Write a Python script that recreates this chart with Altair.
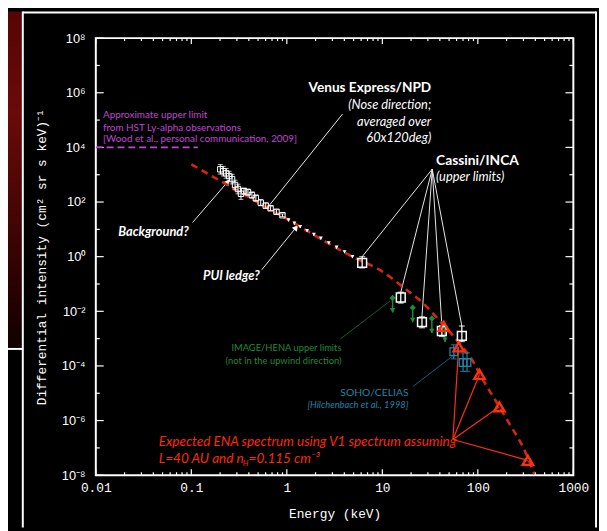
import altair as alt
import pandas as pd

# ---------------- data ----------------
# Venus Express / NPD spectrum
venus_E = [0.201, 0.216, 0.232, 0.249, 0.267, 0.287, 0.308, 0.331, 0.356, 0.392,
           0.431, 0.474, 0.533, 0.601, 0.676, 0.780, 0.900, 1.04, 1.20, 1.38,
           1.63, 1.92, 2.27, 2.75, 3.32, 4.02, 4.86]
venus_I = [1.58e3, 1.35e3, 1.12e3, 8.9e2, 6.9e2, 4.2e2, 3.0e2, 2.0e2, 2.5e2, 2.3e2,
           1.8e2, 1.4e2, 95, 74, 59, 44, 33, 22, 16.7, 12.6,
           9.0, 6.5, 4.7, 3.2, 2.2, 1.5, 1.0]
venus_err = [1.5, 1.5, 1.5, 1.5, 1.5, 1.5, 1.5, 1.6, 1.3, 1.3,
             1.3, 1.3, 1.3, 1.25, 1.2, 1.2, 1.12, 1.12, 1.12, 1.12,
             1.12, 1.12, 1.12, 1.12, 1.12, 1.12, 1.12]

# Cassini / INCA upper limits
cas_E = [6.15, 15.6, 26, 42, 68]
cas_I = [0.59, 0.032, 4.0e-3, 1.9e-3, 1.26e-3]
cas_lo = [0.39, 0.02, 2.5e-3, 1.2e-3, 7.8e-4]
cas_hi = [1.0, 0.05, 6.3e-3, 3.0e-3, 2.9e-3]

# IMAGE / HENA upper limits
hena_E = [12.8, 20.8, 33, 45.3]
hena_I = [0.031, 0.0136, 5.5e-3, 2.6e-3]
hena_tip = [9.1e-3, 4.0e-3, 1.6e-3, 7.6e-4]

# SOHO / CELIAS
soho_E = [56, 70, 77]
soho_I = [3.3e-4, 1.33e-4, 1.33e-4]
soho_lo = [1.8e-4, 6.3e-5, 6.3e-5]
soho_hi = [6.0e-4, 3.0e-4, 3.0e-4]

# expected ENA spectrum (dashed model) and its marked points
model_E = [0.1, 1, 5, 9.5, 17, 27.5, 37.6, 48, 71, 85, 115, 155, 217, 298, 390]
model_I = [2.4e3, 24, 0.95, 0.32, 0.071, 0.018, 5.6e-3, 2.2e-3, 4.3e-4, 1.9e-4,
           2.8e-5, 5.1e-6, 7.1e-7, 1.05e-7, 1.1e-8]
tri_E = [44, 63, 104, 168, 334]
tri_I = [2.8e-3, 5.0e-4, 4.9e-5, 3.2e-6, 3.5e-8]

# HST Ly-alpha upper limit
hst_E = [0.01, 0.117]
hst_I = [1e4, 1e4]

# axis ticks
major_x = [0.01, 0.1, 1, 10, 100, 1000]
minor_x = [m * d for d in [0.01, 0.1, 1, 10, 100] for m in [2, 3, 4, 5, 6, 7, 8, 9]]
major_y = [1e-8, 1e-6, 1e-4, 1e-2, 1, 1e2, 1e4, 1e6, 1e8]
minor_y = [1e-7, 1e-5, 1e-3, 1e-1, 1e1, 1e3, 1e5, 1e7]

# annotation anchors (energy, intensity)
venus_label_line = dict(E=[3.83], I=[1.66e5], E2=[0.644], I2=[70])
cas_origin = (33.3, 1.6e3)
fan_origin = (54.8, 2.03e-7)
bg_arrow = dict(E=[0.103], I=[17.8], E2=[0.239], I2=[537])
pui_arrow = dict(E=[0.546], I=[0.33], E2=[1.25], I2=[11.7])
hena_line = dict(E=[3.65], I=[9.8e-4], E2=[12.0], I2=[0.0236])
soho_line = dict(E=[20.9], I=[1.76e-5], E2=[58.5], I2=[2.8e-4])

# ---------------- scales / axes ----------------
xs = alt.Scale(type="log", domain=[0.01, 1000], nice=False)
ys = alt.Scale(type="log", domain=[1e-8, 1e8], nice=False)

sup = ("'10' + replace(replace(replace(replace(replace(replace("
       "'' + round(log(datum.value) / LN10), '-', '\u207b'), '0', '\u2070'), '2', '\u00b2'),"
       " '4', '\u2074'), '6', '\u2076'), '8', '\u2078')")

x_axis = alt.Axis(values=major_x, format="~g", title="Energy (keV)", ticks=False, tickSize=0,
                  domain=False, grid=False, labelFlush=False, labelOverlap=False,
                  labelFont="Liberation Mono", labelFontSize=13, labelColor="white",
                  labelPadding=7, titleFont="Liberation Mono", titleFontSize=13,
                  titleFontWeight="normal", titleColor="white", titleY=39,
                  titleBaseline="middle")
y_axis = alt.Axis(values=major_y, labelExpr=sup,
                  title="Differential intensity (cm\u00b2 sr s keV)\u207b\u00b9",
                  ticks=False, tickSize=0, domain=False, grid=False, labelFlush=False,
                  labelOverlap=False, labelFont="Liberation Sans", labelFontSize=13,
                  labelColor="white", labelPadding=11, titleFont="Liberation Mono",
                  titleFontSize=13, titleFontWeight="normal", titleColor="white",
                  titleX=-55, titleBaseline="middle")


def X(f="E"):
    return alt.X(f, type="quantitative", scale=xs, axis=x_axis)


def Y(f="I"):
    return alt.Y(f, type="quantitative", scale=ys, axis=y_axis)


W, H = 484, 443
one = pd.DataFrame({"k": [0]})
layers = []

# ---------------- decorations outside the plot ----------------
layers.append(alt.Chart(one).mark_rect(color=alt.Gradient(
    gradient="linear", x1=0, x2=0, y1=0, y2=1,
    stops=[alt.GradientStop(color="#550505", offset=0),
           alt.GradientStop(color="#6a0a0a", offset=0.3),
           alt.GradientStop(color="#330202", offset=0.75),
           alt.GradientStop(color="#120000", offset=1)])).encode(
    x=alt.value(-89), x2=alt.value(-74), y=alt.value(-27), y2=alt.value(315)))
for enc in [dict(x=alt.value(-74), y=alt.value(-27), y2=alt.value(496)),
            dict(x=alt.value(507), y=alt.value(-27), y2=alt.value(496)),
            dict(y=alt.value(-26), x=alt.value(-74), x2=alt.value(507)),
            dict(y=alt.value(315), x=alt.value(-89), x2=alt.value(-74))]:
    layers.append(alt.Chart(one).mark_rule(color="white", strokeWidth=2).encode(**enc))

# ---------------- ticks (inward, mirrored) ----------------
tick = dict(color="white", strokeWidth=1.2)
ymaj = pd.DataFrame({"v": major_y})
ymin = pd.DataFrame({"v": minor_y})
xmaj = pd.DataFrame({"v": major_x})
xmin = pd.DataFrame({"v": minor_x})
layers += [
    alt.Chart(ymaj).mark_rule(**tick).encode(y=Y("v"), x=alt.value(0), x2=alt.value(8)),
    alt.Chart(ymin).mark_rule(**tick).encode(y=Y("v"), x=alt.value(0), x2=alt.value(4)),
    alt.Chart(ymaj).mark_rule(**tick).encode(y=Y("v"), x=alt.value(W), x2=alt.value(W - 8)),
    alt.Chart(ymin).mark_rule(**tick).encode(y=Y("v"), x=alt.value(W), x2=alt.value(W - 4)),
    alt.Chart(xmaj).mark_rule(**tick).encode(x=X("v"), y=alt.value(H), y2=alt.value(H - 6)),
    alt.Chart(xmin).mark_rule(**tick).encode(x=X("v"), y=alt.value(H), y2=alt.value(H - 3)),
    alt.Chart(xmaj).mark_rule(**tick).encode(x=X("v"), y=alt.value(0), y2=alt.value(6)),
    alt.Chart(xmin).mark_rule(**tick).encode(x=X("v"), y=alt.value(0), y2=alt.value(3)),
]

# ---------------- HST limit ----------------
layers.append(alt.Chart(pd.DataFrame({"E": hst_E, "I": hst_I})).mark_line(
    color="#c046d6", strokeWidth=1.6, strokeDash=[7, 4]).encode(x=X(), y=Y()))

# ---------------- annotation lines ----------------
def seg(d, color, width=1.0):
    return alt.Chart(pd.DataFrame(d)).mark_rule(color=color, strokeWidth=width).encode(
        x=X("E"), y=Y("I"), x2=alt.X2("E2"), y2=alt.Y2("I2"))


layers.append(seg(venus_label_line, "#e8e8e8"))
layers.append(seg(dict(E=[cas_origin[0]] * 5, I=[cas_origin[1]] * 5, E2=cas_E, I2=cas_hi), "#e8e8e8"))
layers.append(seg(dict(E=[fan_origin[0]] * 4, I=[fan_origin[1]] * 4, E2=tri_E[1:], I2=tri_I[1:]),
                  "#ff3010", 1.2))
layers.append(seg(hena_line, "#1d5a2c"))
layers.append(seg(soho_line, "#15607a"))
layers.append(seg(bg_arrow, "#e8e8e8"))
layers.append(seg(pui_arrow, "#e8e8e8"))
layers.append(alt.Chart(pd.DataFrame({"E": [bg_arrow["E2"][0], pui_arrow["E2"][0]],
                                      "I": [bg_arrow["I2"][0], pui_arrow["I2"][0]]}))
              .mark_point(shape="triangle-up", filled=True, color="white", size=45, angle=38,
                          opacity=1).encode(x=X(), y=Y()))

# ---------------- model curve ----------------
layers.append(alt.Chart(pd.DataFrame({"E": model_E, "I": model_I})).mark_line(
    color="#d8260e", strokeWidth=2.6, strokeDash=[7, 5], interpolate="monotone").encode(
    x=X(), y=Y()))

# ---------------- Venus Express data ----------------
vdf = pd.DataFrame({"E": venus_E, "I": venus_I,
                    "lo": [i / f for i, f in zip(venus_I, venus_err)],
                    "hi": [i * f for i, f in zip(venus_I, venus_err)]})
vlow = vdf[vdf["E"] < 0.95]
vhigh = vdf[vdf["E"] >= 0.95]
layers.append(alt.Chart(vdf).mark_rule(color="white", strokeWidth=1).encode(
    x=X(), y=Y("lo"), y2=alt.Y2("hi")))
layers.append(alt.Chart(vlow).mark_tick(color="white", orient="horizontal", size=5,
                                        thickness=1).encode(x=X(), y=Y("lo")))
layers.append(alt.Chart(vlow).mark_tick(color="white", orient="horizontal", size=5,
                                        thickness=1).encode(x=X(), y=Y("hi")))
layers.append(alt.Chart(vlow).mark_point(shape="square", filled=False, color="white",
                                         size=30, strokeWidth=1, opacity=1).encode(x=X(), y=Y()))
layers.append(alt.Chart(vhigh).mark_point(shape="triangle-down", filled=True, color="white",
                                          size=16, opacity=1).encode(x=X(), y=Y()))

# ---------------- IMAGE/HENA ----------------
hdf = pd.DataFrame({"E": hena_E, "I": hena_I, "tip": hena_tip})
layers.append(alt.Chart(hdf).mark_rule(color="#1c8c3c", strokeWidth=1.5).encode(
    x=X(), y=Y("I"), y2=alt.Y2("tip")))
layers.append(alt.Chart(hdf).mark_point(shape="diamond", filled=True, color="#1c8c3c",
                                        size=40, opacity=1).encode(x=X(), y=Y("I")))
layers.append(alt.Chart(hdf).mark_point(shape="triangle-down", filled=True, color="#1c8c3c",
                                        size=30, opacity=1, yOffset=-2).encode(x=X(), y=Y("tip")))

# ---------------- SOHO/CELIAS ----------------
sdf = pd.DataFrame({"E": soho_E, "I": soho_I, "lo": soho_lo, "hi": soho_hi})
layers.append(alt.Chart(sdf).mark_rule(color="#1e86a8", strokeWidth=1.2).encode(
    x=X(), y=Y("lo"), y2=alt.Y2("hi")))
for f in ["lo", "hi"]:
    layers.append(alt.Chart(sdf).mark_tick(color="#1e86a8", orient="horizontal", size=6,
                                           thickness=1.2).encode(x=X(), y=Y(f)))
layers.append(alt.Chart(sdf).mark_point(shape="square", filled=False, color="#1e86a8",
                                        size=60, strokeWidth=1.3, opacity=1).encode(x=X(), y=Y()))

# ---------------- Cassini/INCA ----------------
cdf = pd.DataFrame({"E": cas_E, "I": cas_I, "lo": cas_lo, "hi": cas_hi})
layers.append(alt.Chart(cdf).mark_rule(color="white", strokeWidth=1.3).encode(
    x=X(), y=Y("lo"), y2=alt.Y2("hi")))
for f in ["lo", "hi"]:
    layers.append(alt.Chart(cdf).mark_tick(color="white", orient="horizontal", size=6,
                                           thickness=1.3).encode(x=X(), y=Y(f)))
layers.append(alt.Chart(cdf).mark_point(shape="square", filled=False, color="white",
                                        size=80, strokeWidth=1.5, opacity=1).encode(x=X(), y=Y()))

# ---------------- expected ENA points ----------------
layers.append(alt.Chart(pd.DataFrame({"E": tri_E, "I": tri_I})).mark_point(
    shape="triangle-up", filled=False, color="#ff3010", size=110, strokeWidth=2.4,
    opacity=1).encode(x=X(), y=Y()))

# ---------------- texts ----------------
def txt(E, I, t, color="white", size=12, align="left", style="normal", weight="normal",
        font="Lato", dx=0, dy=0):
    return alt.Chart(pd.DataFrame({"E": E, "I": I, "t": t})).mark_text(
        color=color, fontSize=size, align=align, baseline="middle", fontStyle=style,
        fontWeight=weight, font=font, dx=dx, dy=dy).encode(x=X(), y=Y(), text="t")


red = "#ff2a00"
layers += [
    txt([0.0119] * 3, [1.57e5, 5.3e4, 2.03e4],
        ["Approximate upper limit", "from HST Ly-alpha observations",
         "[Wood et al., personal communication, 2009]"], color="#c046d6", size=10),
    txt([32.5], [1.44e6], ["Venus Express/NPD"], size=13.8, align="right", weight="bold"),
    txt([32.5] * 3, [3.5e5, 8.5e4, 2.26e4],
        ["(Nose direction;", "averaged over", "60x120deg)"], size=13, align="right",
        style="italic"),
    txt([36.5], [3.3e3], ["Cassini/INCA"], size=14, weight="bold"),
    txt([36.5], [8.13e2], ["(upper limits)"], size=13, style="italic"),
    txt([0.094], [7.7], ["Background?"], size=13, align="right", weight="bold", style="italic"),
    txt([0.52], [0.188], ["PUI ledge?"], size=13, align="right", weight="bold", style="italic"),
    txt([3.74] * 2, [4.6e-4, 1.57e-4], ["IMAGE/HENA upper limits",
                                         "(not in the upwind direction)"],
        color="#1f8a3b", size=9.5, align="right"),
    txt([18.8], [1.0e-5], ["SOHO/CELIAS"], color="#1e86a8", size=10.5, align="right"),
    txt([18.8], [3.7e-6], ["[Hilchenbach et al., 1998]"], color="#1e86a8", size=9.5,
        align="right", style="italic"),
    txt([0.0457], [1.58e-7], ["Expected ENA spectrum using V1 spectrum assuming"],
        color=red, size=13.7, style="italic"),
    txt([0.0457], [3.85e-8], ["L=40 AU and n"], color=red, size=13.7, style="italic"),
    txt([0.0457], [3.85e-8], ["H"], color=red, size=8, style="italic", dx=85, dy=5),
    txt([0.0457], [3.85e-8], ["=0.115 cm\u207b\u00b3"], color=red, size=13.7,
        style="italic", dx=91),
]

chart = alt.layer(*layers).properties(
    width=W, height=H,
    autosize=alt.AutoSizeParams(type="none"),
    padding={"left": 89, "top": 27, "right": 26, "bottom": 53},
).configure(background="black").configure_view(stroke="white", strokeWidth=2)

chart.save("out.html", embed_options={"renderer": "svg", "actions": False})
